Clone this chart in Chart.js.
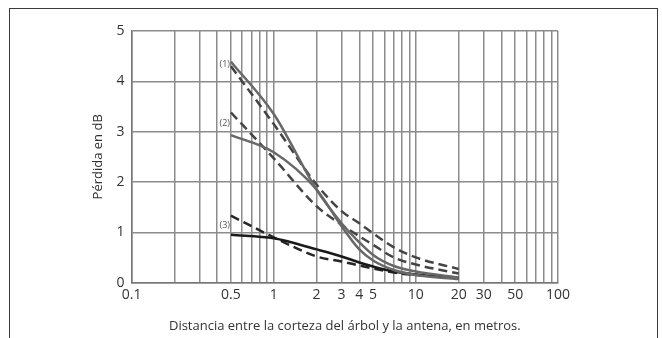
<!DOCTYPE html>
<html>
<head>
<meta charset="utf-8">
<script src="https://cdn.jsdelivr.net/npm/chart.js@4"></script>
<style>
  body { margin: 0; background: #fff; }
  #marco { position: absolute; left: 9px; top: 8px; width: 649px; height: 340px;
           border: 1.5px solid #3a3a3a; border-bottom: none; box-sizing: border-box; }
  #grafico { position: absolute; left: 0; top: 0; }
</style>
</head>
<body>
<div id="marco"></div>
<canvas id="grafico" width="662" height="338"></canvas>
<script>
// distancias en metros (eje x logaritmico)
let distancias = [0.5, 1, 2, 3, 4, 5, 7, 10, 20];

// perdida en dB
let curva1Solida  = [4.39, 3.35, 1.85, 1.18, 0.8, 0.55, 0.33, 0.22, 0.1];
let curva1Trazos  = [4.3, 3.15, 1.95, 1.42, 1.18, 0.98, 0.7, 0.5, 0.27];
let curva2Solida  = [2.93, 2.59, 1.85, 1.12, 0.66, 0.44, 0.25, 0.15, 0.07];
let curva2Trazos  = [3.38, 2.47, 1.52, 1.15, 0.92, 0.75, 0.5, 0.36, 0.18];
let curva3Solida  = [0.95, 0.88, 0.66, 0.52, 0.4, 0.32, 0.22, 0.16, 0.08];
let curva3Trazos  = [1.33, 0.9, 0.52, 0.42, 0.34, 0.28, 0.2, 0.15, 0.1];

let etiquetasCurvas = ['(1)', '(2)', '(3)'];
let etiquetasX = [0.1, 0.5, 1, 2, 3, 4, 5, 10, 20, 30, 50, 100];
let etiquetasY = [0, 1, 2, 3, 4, 5];

// lineas de la rejilla: 0.1..0.9, 1..9, 10..100
let rejillaX = [];
[0.1, 1, 10].forEach(d => { for (let k = 1; k <= 9; k++) rejillaX.push(k * d); });
rejillaX.push(100);

function puntos(valores) {
  return distancias.map((d, i) => ({x: d, y: valores[i]}));
}

function serie(valores, color, trazos) {
  return {
    data: puntos(valores),
    borderColor: color,
    borderWidth: 2.5,
    borderDash: trazos ? [9, 5] : [],
    pointRadius: 0,
    cubicInterpolationMode: 'monotone',
    fill: false
  };
}

let pares = [
  [curva1Trazos, curva1Solida],
  [curva2Trazos, curva2Solida],
  [curva3Trazos, curva3Solida]
];

// escribe (1), (2), (3) a la izquierda del inicio de cada par de curvas
const rotulos = {
  id: 'rotulos',
  afterDatasetsDraw(chart) {
    const ctx = chart.ctx;
    const x = chart.scales.x, y = chart.scales.y;
    ctx.save();
    ctx.font = '9px "Open Sans"';
    ctx.fillStyle = '#555';
    ctx.textAlign = 'right';
    ctx.textBaseline = 'middle';
    pares.forEach((p, i) => {
      let medio = (p[0][0] + p[1][0]) / 2;
      ctx.fillText(etiquetasCurvas[i], x.getPixelForValue(distancias[0]) - 1, y.getPixelForValue(medio));
    });
    ctx.restore();
  }
};

let fuente = {family: 'Open Sans', size: 14};

new Chart("grafico", {
  type: "line",
  data: {
    datasets: [
      serie(curva1Solida, '#686868', false),
      serie(curva1Trazos, '#444', true),
      serie(curva2Solida, '#686868', false),
      serie(curva2Trazos, '#444', true),
      serie(curva3Solida, '#1a1a1a', false),
      serie(curva3Trazos, '#262626', true)
    ]
  },
  plugins: [rotulos],
  options: {
    responsive: false,
    animation: false,
    layout: {padding: {left: 90, top: 31, right: 104, bottom: 4}},
    plugins: {
      legend: {display: false},
      tooltip: {enabled: false}
    },
    scales: {
      x: {
        type: 'logarithmic',
        min: 0.1,
        max: 100,
        afterBuildTicks: function (scale) {
          scale.ticks = rejillaX.map(v => ({value: v}));
        },
        grid: {color: '#8c8c8c', lineWidth: 1.5, drawTicks: false},
        border: {color: '#777', width: 1.5},
        ticks: {
          autoSkip: false,
          maxRotation: 0,
          padding: 4,
          color: '#333',
          font: fuente,
          callback: function (value) {
            let e = etiquetasX.find(v => Math.abs(v - value) < 1e-9);
            return e === undefined ? '' : String(e);
          }
        },
        title: {
          display: true,
          text: 'Distancia entre la corteza del árbol y la antena, en metros.',
          color: '#333',
          font: {family: 'Open Sans', size: 13},
          padding: {top: 11, bottom: 0}
        }
      },
      y: {
        min: 0,
        max: 5,
        afterBuildTicks: function (scale) {
          scale.ticks = etiquetasY.map(v => ({value: v}));
        },
        grid: {color: '#8c8c8c', lineWidth: 1.5, drawTicks: false},
        border: {color: '#777', width: 1.5},
        ticks: {
          padding: 7,
          color: '#333',
          font: fuente
        },
        title: {
          display: true,
          text: 'Pérdida en dB',
          color: '#333',
          font: {family: 'Open Sans', size: 13},
          padding: {top: 0, bottom: 4}
        }
      }
    }
  }
});
</script>
</body>
</html>
